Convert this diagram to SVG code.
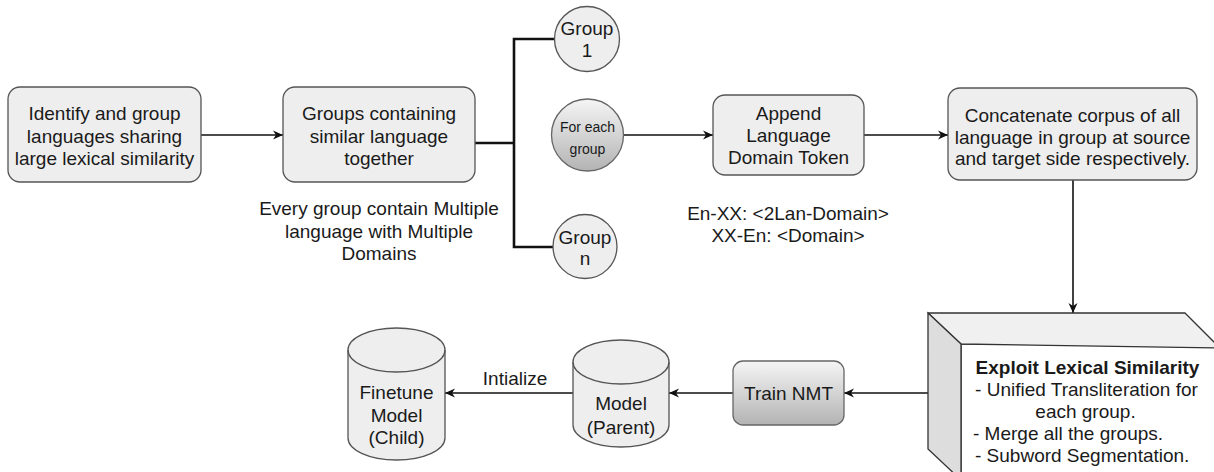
<svg xmlns="http://www.w3.org/2000/svg" width="1214" height="472" viewBox="0 0 1214 472">
<style>
  text { font-family: "Liberation Sans", Arial, Helvetica, sans-serif; font-size: 19px; fill: #1a1a1a; text-anchor: middle; }
  .box { fill: #eeeeee; stroke: #555555; stroke-width: 1.3; }
  .grad { fill: url(#g); stroke: #666666; stroke-width: 1.3; }
  .conn { fill: none; stroke: #111111; stroke-width: 1.6; }
  .thick { fill: none; stroke: #111111; stroke-width: 2.6; }
  .small { font-size: 14px; }
  .bold { font-weight: bold; }
  .left { text-anchor: start; }
</style>
<defs>
  <linearGradient id="g" x1="0" y1="0" x2="0" y2="1">
    <stop offset="0" stop-color="#f5f5f5"/>
    <stop offset="1" stop-color="#b3b3b3"/>
  </linearGradient>
  <marker id="arr" markerWidth="12" markerHeight="10" refX="11" refY="5" orient="auto" markerUnits="userSpaceOnUse">
    <path d="M1,0.5 L11,5 L1,9.5 L4,5 Z" fill="#111111"/>
  </marker>
</defs>

<g id="connectors">
  <line class="conn" x1="201" y1="135" x2="283" y2="135" marker-end="url(#arr)"/>
  <polyline class="thick" points="475,143 514,143"/>
  <polyline class="thick" points="555,39 514,39 514,247 553,247"/>
  <line class="conn" x1="623" y1="135" x2="713" y2="135" marker-end="url(#arr)"/>
  <line class="conn" x1="864" y1="135" x2="948" y2="135" marker-end="url(#arr)"/>
  <line class="conn" x1="1073" y1="180" x2="1073" y2="313" marker-end="url(#arr)"/>
  <line class="conn" x1="928" y1="393" x2="844" y2="393" marker-end="url(#arr)"/>
  <line class="conn" x1="733" y1="393" x2="669" y2="393" marker-end="url(#arr)"/>
  <line class="conn" x1="573" y1="393" x2="445" y2="393" marker-end="url(#arr)"/>
  <text x="515" y="385">Intialize</text>
</g>

<g id="identify">
  <rect class="box" x="8" y="87" width="193" height="95" rx="12"/>
  <text x="104.5" y="120">Identify and group</text>
  <text x="104.5" y="142.5">languages sharing</text>
  <text x="104.5" y="165">large lexical similarity</text>
</g>

<g id="groups">
  <rect class="box" x="283" y="87" width="192" height="95" rx="12"/>
  <text x="379" y="120">Groups containing</text>
  <text x="379" y="142.5">similar language</text>
  <text x="379" y="165">together</text>
</g>

<g id="groups-note">
  <text x="379" y="215">Every group contain Multiple</text>
  <text x="379" y="237.5">language with Multiple</text>
  <text x="379" y="260">Domains</text>
</g>

<g id="group1">
  <circle class="box" cx="587" cy="39" r="32.5"/>
  <text x="587" y="35">Group</text>
  <text x="587" y="57">1</text>
</g>

<g id="foreach">
  <circle class="grad" cx="587.5" cy="135" r="36"/>
  <text class="small" x="587.5" y="132">For each</text>
  <text class="small" x="587.5" y="154">group</text>
</g>

<g id="groupn">
  <circle class="box" cx="585" cy="246.5" r="32"/>
  <text x="585" y="244">Group</text>
  <text x="585" y="265">n</text>
</g>

<g id="append">
  <rect class="box" x="713" y="95" width="151" height="80" rx="12"/>
  <text x="788.5" y="120">Append</text>
  <text x="788.5" y="142">Language</text>
  <text x="788.5" y="164">Domain Token</text>
</g>

<g id="append-note">
  <text x="788" y="220">En-XX: &lt;2Lan-Domain&gt;</text>
  <text x="788" y="242">XX-En: &lt;Domain&gt;</text>
</g>

<g id="concat">
  <rect class="box" x="948" y="88" width="249" height="92" rx="12"/>
  <text x="1072.5" y="122">Concatenate corpus of all</text>
  <text x="1072.5" y="144">language in group at source</text>
  <text x="1072.5" y="165">and target side respectively.</text>
</g>

<g id="exploit">
  <polygon points="961,344 1220,344 1220,480 961,480" fill="#ffffff" stroke="#333333" stroke-width="1.3"/>
  <polygon points="928,313 1185,313 1220,348 961,344" fill="#f0f0f0" stroke="#333333" stroke-width="1.3" stroke-linejoin="round"/>
  <polygon points="928,313 961,344 961,480 928,449" fill="#dddddd" stroke="#333333" stroke-width="1.3"/>
  <text class="bold" x="1087.5" y="374">Exploit Lexical Similarity</text>
  <text x="1086.5" y="396">- Unified Transliteration for</text>
  <text x="1085.5" y="418">each group.</text>
  <text class="left" x="973" y="440">- Merge all the groups.</text>
  <text class="left" x="975" y="462">- Subword Segmentation.</text>
</g>

<g id="train">
  <rect class="grad" x="733" y="361" width="111" height="64" rx="10"/>
  <text x="788.5" y="400">Train NMT</text>
</g>

<g id="parent">
  <path class="box" d="M573,362 A48,22 0 0 1 669,362 L669,425 A48,22 0 0 1 573,425 Z"/>
  <path d="M573,362 A48,22 0 0 0 669,362" fill="none" stroke="#555555" stroke-width="1.3"/>
  <text x="621" y="410">Model</text>
  <text x="621" y="434">(Parent)</text>
</g>

<g id="child">
  <path class="box" d="M348,350 A48.5,22 0 0 1 445,350 L445,438 A48.5,22 0 0 1 348,438 Z"/>
  <path d="M348,350 A48.5,22 0 0 0 445,350" fill="none" stroke="#555555" stroke-width="1.3"/>
  <text x="396.5" y="399">Finetune</text>
  <text x="396.5" y="422">Model</text>
  <text x="396.5" y="444">(Child)</text>
</g>
</svg>
